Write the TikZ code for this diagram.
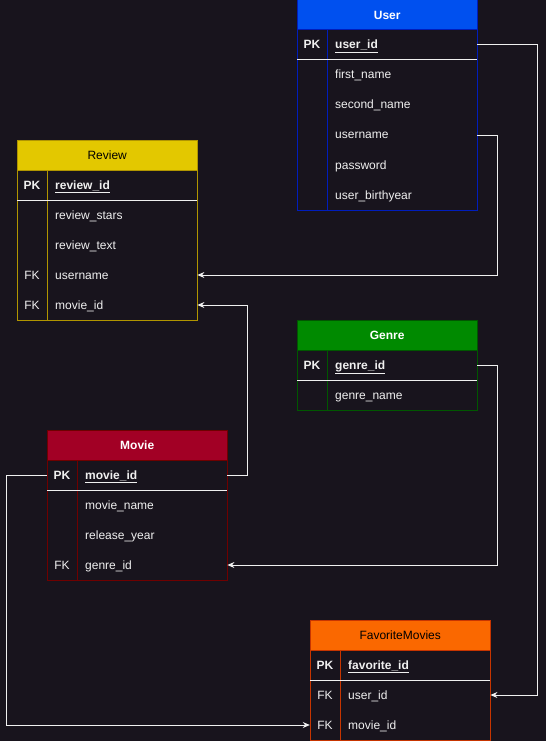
\documentclass[tikz,border=0pt]{standalone}
\usepackage{fontspec}
\setmainfont{Liberation Sans}
\usetikzlibrary{arrows.meta}

\definecolor{fondo}{HTML}{18141D}
\definecolor{texto}{HTML}{F0F0F0}
\definecolor{azul}{HTML}{0050EF}
\definecolor{azulborde}{HTML}{001DBC}
\definecolor{amarillo}{HTML}{E3C800}
\definecolor{amarilloborde}{HTML}{B09500}
\definecolor{verde}{HTML}{008A00}
\definecolor{verdeborde}{HTML}{005700}
\definecolor{rojo}{HTML}{A20025}
\definecolor{rojoborde}{HTML}{6F0000}
\definecolor{naranja}{HTML}{FA6800}
\definecolor{naranjaborde}{HTML}{C73500}

\tikzset{
  titulo/.style={minimum width=180pt, minimum height=30pt, inner sep=0pt, anchor=north west,
    text height=11pt, text depth=3pt, font=\fontsize{12}{14}\selectfont},
  clave/.style={minimum width=30pt, minimum height=30pt, inner sep=0pt, text=texto,
    text height=11pt, text depth=3pt, font=\fontsize{12}{14}\selectfont},
  clavepk/.style={clave, font=\fontsize{12}{14}\selectfont\bfseries},
  campo/.style={anchor=west, text width=134pt, inner xsep=8pt, inner ysep=0pt,
    text height=11pt, text depth=3pt,
    minimum height=30pt, align=left, text=texto, font=\fontsize{12}{14}\selectfont},
  campopk/.style={campo, font=\fontsize{12}{14}\selectfont\bfseries},
  divisor/.style={texto, line width=1pt},
  rel/.style={texto, line width=1pt, -{Stealth[length=7pt,width=6pt]}},
}

\begin{document}
\begin{tikzpicture}[x=1pt, y=-1pt]

% Fondo
\fill[fondo] (0,0) rectangle (546,741);
\useasboundingbox (0,0) rectangle (546,741);

% Tabla User
\fill[azul] (297,0) rectangle (477,30);
\draw[azulborde, line width=1pt] (297,0) rectangle (477,210);
\draw[azulborde, line width=1pt] (297,30) -- (477,30);
\draw[azulborde, line width=1pt] (327,30) -- (327,210);
\draw[divisor] (297,60) -- (477,60);
\node[titulo, text=white, font=\fontsize{12}{14}\selectfont\bfseries] (user) at (297,0) {User};
\node[clavepk] (user-pk) at (312,45) {PK};
\node[campopk] (user-id) at (327,45) {\underline{user\_id}};
\node[campo] (user-first) at (327,75) {first\_name};
\node[campo] (user-second) at (327,105) {second\_name};
\node[campo] (user-name) at (327,135) {username};
\node[campo] (user-pass) at (327,165) {password};
\node[campo] (user-birth) at (327,195) {user\_birthyear};

% Tabla Review
\fill[amarillo] (17,140) rectangle (197,170);
\draw[amarilloborde, line width=1pt] (17,140) rectangle (197,320);
\draw[amarilloborde, line width=1pt] (17,170) -- (197,170);
\draw[amarilloborde, line width=1pt] (47,170) -- (47,320);
\draw[divisor] (17,200) -- (197,200);
\node[titulo, text=black] (review) at (17,140) {Review};
\node[clavepk] (rev-pk) at (32,185) {PK};
\node[campopk] (rev-id) at (47,185) {\underline{review\_id}};
\node[campo] (rev-stars) at (47,215) {review\_stars};
\node[campo] (rev-text) at (47,245) {review\_text};
\node[clave] (rev-fk1) at (32,275) {FK};
\node[campo] (rev-user) at (47,275) {username};
\node[clave] (rev-fk2) at (32,305) {FK};
\node[campo] (rev-movie) at (47,305) {movie\_id};

% Tabla Genre
\fill[verde] (297,320) rectangle (477,350);
\draw[verdeborde, line width=1pt] (297,320) rectangle (477,410);
\draw[verdeborde, line width=1pt] (297,350) -- (477,350);
\draw[verdeborde, line width=1pt] (327,350) -- (327,410);
\draw[divisor] (297,380) -- (477,380);
\node[titulo, text=white, font=\fontsize{12}{14}\selectfont\bfseries] (genre) at (297,320) {Genre};
\node[clavepk] (genre-pk) at (312,365) {PK};
\node[campopk] (genre-id) at (327,365) {\underline{genre\_id}};
\node[campo] (genre-name) at (327,395) {genre\_name};

% Tabla Movie
\fill[rojo] (47,430) rectangle (227,460);
\draw[rojoborde, line width=1pt] (47,430) rectangle (227,580);
\draw[rojoborde, line width=1pt] (47,460) -- (227,460);
\draw[rojoborde, line width=1pt] (77,460) -- (77,580);
\draw[divisor] (47,490) -- (227,490);
\node[titulo, text=white, font=\fontsize{12}{14}\selectfont\bfseries] (movie) at (47,430) {Movie};
\node[clavepk] (movie-pk) at (62,475) {PK};
\node[campopk] (movie-id) at (77,475) {\underline{movie\_id}};
\node[campo] (movie-name) at (77,505) {movie\_name};
\node[campo] (movie-year) at (77,535) {release\_year};
\node[clave] (movie-fk) at (62,565) {FK};
\node[campo] (movie-genre) at (77,565) {genre\_id};

% Tabla FavoriteMovies
\fill[naranja] (310,620) rectangle (490,650);
\draw[naranjaborde, line width=1pt] (310,620) rectangle (490,740);
\draw[naranjaborde, line width=1pt] (310,650) -- (490,650);
\draw[naranjaborde, line width=1pt] (340,650) -- (340,740);
\draw[divisor] (310,680) -- (490,680);
\node[titulo, text=black] (fav) at (310,620) {FavoriteMovies};
\node[clavepk] (fav-pk) at (325,665) {PK};
\node[campopk] (fav-id) at (340,665) {\underline{favorite\_id}};
\node[clave] (fav-fk1) at (325,695) {FK};
\node[campo] (fav-user) at (340,695) {user\_id};
\node[clave] (fav-fk2) at (325,725) {FK};
\node[campo] (fav-movie) at (340,725) {movie\_id};

% Relaciones
\draw[rel] (user-id.east) -- ++(60,0) |- (fav-user.east);
\draw[rel] (user-name.east) -- ++(20,0) |- (rev-user.east);
\draw[rel] (movie-id.east) -- ++(20,0) |- (rev-movie.east);
\draw[rel] (genre-id.east) -- ++(20,0) |- (movie-genre.east);
\draw[rel] (movie-pk.west) -- ++(-40,0) |- (fav-fk2.west);

\end{tikzpicture}
\end{document}
